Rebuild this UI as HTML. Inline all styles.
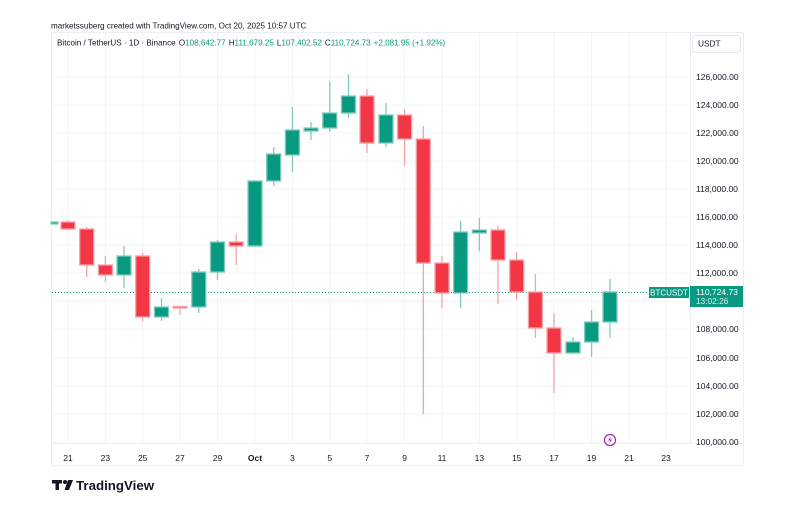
<!DOCTYPE html>
<html><head><meta charset="utf-8"><style>
html,body{margin:0;padding:0;background:#fff;width:799px;height:505px;overflow:hidden}
svg{display:block}
text{font-family:"Liberation Sans",sans-serif}
</style></head><body>
<svg width="799" height="505" viewBox="0 0 799 505" xmlns="http://www.w3.org/2000/svg">
<text x="51" y="28.5" font-size="8.1" fill="#131722">marketssuberg created with TradingView.com, Oct 20, 2025 10:57 UTC</text>
<rect x="51.5" y="32.5" width="692" height="433" fill="#fff" stroke="#eceef2"/>
<!-- grid -->
<g stroke="#f3f4f6" stroke-width="1">
<line x1="68" y1="33" x2="68" y2="443"/><line x1="105.4" y1="33" x2="105.4" y2="443"/><line x1="142.7" y1="33" x2="142.7" y2="443"/><line x1="180" y1="33" x2="180" y2="443"/><line x1="217.5" y1="33" x2="217.5" y2="443"/><line x1="255" y1="33" x2="255" y2="443"/><line x1="292.4" y1="33" x2="292.4" y2="443"/><line x1="329.8" y1="33" x2="329.8" y2="443"/><line x1="367" y1="33" x2="367" y2="443"/><line x1="404.6" y1="33" x2="404.6" y2="443"/><line x1="442" y1="33" x2="442" y2="443"/><line x1="479.4" y1="33" x2="479.4" y2="443"/><line x1="516.7" y1="33" x2="516.7" y2="443"/><line x1="554" y1="33" x2="554" y2="443"/><line x1="591.5" y1="33" x2="591.5" y2="443"/><line x1="629" y1="33" x2="629" y2="443"/><line x1="666" y1="33" x2="666" y2="443"/>
<line x1="52" y1="77" x2="690" y2="77"/><line x1="52" y1="105" x2="690" y2="105"/><line x1="52" y1="133" x2="690" y2="133"/><line x1="52" y1="161" x2="690" y2="161"/><line x1="52" y1="189" x2="690" y2="189"/><line x1="52" y1="217" x2="690" y2="217"/><line x1="52" y1="245" x2="690" y2="245"/><line x1="52" y1="273" x2="690" y2="273"/><line x1="52" y1="301" x2="690" y2="301"/><line x1="52" y1="329" x2="690" y2="329"/><line x1="52" y1="358" x2="690" y2="358"/><line x1="52" y1="386" x2="690" y2="386"/><line x1="52" y1="414" x2="690" y2="414"/><line x1="52" y1="442" x2="690" y2="442"/>
<line x1="52" y1="443.5" x2="743" y2="443.5" stroke="#eceef2"/>
<line x1="690.5" y1="33" x2="690.5" y2="443" stroke="#eceef2"/>
</g>
<!-- header -->
<text x="57" y="45.5" font-size="8.1" fill="#131722">Bitcoin / TetherUS · 1D · Binance <tspan dx="1">O</tspan><tspan fill="#089981">108,642.77</tspan><tspan dx="3">H</tspan><tspan fill="#089981">111,679.25</tspan><tspan dx="3">L</tspan><tspan fill="#089981">107,402.52</tspan><tspan dx="3">C</tspan><tspan fill="#089981">110,724.73</tspan><tspan dx="3" fill="#089981">+2,081.95 (+1.92%)</tspan></text>
<rect x="692.5" y="35.5" width="48" height="17" rx="3" fill="#fff" stroke="#e6e8ec"/>
<text x="698" y="46.5" font-size="8.3" fill="#131722">USDT</text>
<!-- price labels -->
<g font-size="8.5" fill="#131722">
<text x="696" y="80">126,000.00</text><text x="696" y="108">124,000.00</text><text x="696" y="136">122,000.00</text><text x="696" y="164">120,000.00</text><text x="696" y="192">118,000.00</text><text x="696" y="220">116,000.00</text><text x="696" y="248">114,000.00</text><text x="696" y="276">112,000.00</text><text x="696" y="332">108,000.00</text><text x="696" y="361">106,000.00</text><text x="696" y="389">104,000.00</text><text x="696" y="417">102,000.00</text><text x="696" y="445">100,000.00</text>
</g>
<!-- time labels -->
<g font-size="8.5" fill="#131722" text-anchor="middle">
<text x="68" y="461">21</text><text x="105.4" y="461">23</text><text x="142.7" y="461">25</text><text x="180" y="461">27</text><text x="217.5" y="461">29</text><text x="255" y="461" font-weight="bold">Oct</text><text x="292.4" y="461">3</text><text x="329.8" y="461">5</text><text x="367" y="461">7</text><text x="404.6" y="461">9</text><text x="442" y="461">11</text><text x="479.4" y="461">13</text><text x="516.7" y="461">15</text><text x="554" y="461">17</text><text x="591.5" y="461">19</text><text x="629" y="461">21</text><text x="666" y="461">23</text>
</g>
<!-- current price line -->
<line x1="52" y1="292.5" x2="690" y2="292.5" stroke="#089981" stroke-dasharray="1 2" stroke-width="1"/>
<!-- candles -->
<g stroke-width="1.3">
<g stroke="#7fcbbd" fill="#089981">
<rect x="51" y="222" width="7" height="2"/>
<line x1="124" y1="246" x2="124" y2="288"/><rect x="117" y="256" width="14" height="19"/>
<line x1="161.5" y1="298" x2="161.5" y2="321"/><rect x="154.5" y="307" width="14" height="10"/>
<line x1="198.8" y1="269" x2="198.8" y2="313"/><rect x="191.8" y="272" width="14" height="35"/>
<line x1="217.5" y1="240" x2="217.5" y2="280"/><rect x="210.5" y="242" width="14" height="30"/>
<line x1="255" y1="180" x2="255" y2="247"/><rect x="248" y="181" width="14" height="65"/>
<line x1="273.7" y1="147" x2="273.7" y2="186"/><rect x="266.7" y="154" width="14" height="27"/>
<line x1="292.4" y1="107" x2="292.4" y2="172"/><rect x="285.4" y="130" width="14" height="25"/>
<line x1="311" y1="122" x2="311" y2="140"/><rect x="304" y="128" width="14" height="3"/>
<line x1="329.8" y1="81" x2="329.8" y2="132"/><rect x="322.8" y="113" width="14" height="15"/>
<line x1="348.5" y1="74" x2="348.5" y2="118"/><rect x="341.5" y="96" width="14" height="17"/>
<line x1="386" y1="103" x2="386" y2="147"/><rect x="379" y="115" width="14" height="28"/>
<line x1="460.6" y1="221" x2="460.6" y2="308"/><rect x="453.6" y="232" width="14" height="61"/>
<line x1="479.4" y1="218" x2="479.4" y2="251"/><rect x="472.4" y="230" width="14" height="3"/>
<line x1="573" y1="337" x2="573" y2="354"/><rect x="566" y="342" width="14" height="11"/>
<line x1="591.6" y1="310" x2="591.6" y2="357"/><rect x="584.6" y="322" width="14" height="20"/>
<line x1="610" y1="279" x2="610" y2="338"/><rect x="603" y="292" width="14" height="30"/>
</g>
<g stroke="#f7a1a8" fill="#f23645">
<line x1="68" y1="220" x2="68" y2="230"/><rect x="61" y="222" width="14" height="7"/>
<line x1="86.7" y1="227" x2="86.7" y2="277"/><rect x="79.7" y="229" width="14" height="36"/>
<line x1="105.4" y1="256" x2="105.4" y2="282"/><rect x="98.4" y="265" width="14" height="10"/>
<line x1="142.7" y1="253" x2="142.7" y2="321"/><rect x="135.7" y="256" width="14" height="61"/>
<line x1="180" y1="306" x2="180" y2="315"/><rect x="173" y="306.5" width="14" height="1.5"/>
<line x1="236.2" y1="234" x2="236.2" y2="265"/><rect x="229.2" y="242" width="14" height="4"/>
<line x1="367" y1="89" x2="367" y2="153"/><rect x="360" y="96" width="14" height="47"/>
<line x1="404.6" y1="109" x2="404.6" y2="166"/><rect x="397.6" y="115" width="14" height="24"/>
<line x1="423.3" y1="126" x2="423.3" y2="414"/><rect x="416.3" y="139" width="14" height="124"/>
<line x1="442" y1="256" x2="442" y2="308"/><rect x="435" y="263" width="14" height="30"/>
<line x1="498" y1="226" x2="498" y2="304"/><rect x="491" y="230" width="14" height="30"/>
<line x1="516.7" y1="252" x2="516.7" y2="300"/><rect x="509.7" y="260" width="14" height="32"/>
<line x1="535.4" y1="274" x2="535.4" y2="338"/><rect x="528.4" y="292" width="14" height="36"/>
<line x1="554" y1="313" x2="554" y2="393"/><rect x="547" y="328" width="14" height="25"/>
</g>
</g>
<!-- price tags -->
<rect x="649" y="287" width="40" height="11" fill="#089981"/>
<text x="669" y="295.5" font-size="8" fill="#fff" text-anchor="middle">BTCUSDT</text>
<rect x="690" y="286" width="53" height="21" fill="#089981"/>
<text x="696" y="295" font-size="8.5" fill="#fff">110,724.73</text>
<text x="696" y="304" font-size="8.3" fill="#d6f0ea">13:02:26</text>
<!-- lightning -->
<circle cx="610" cy="440" r="5.5" fill="#fff" stroke="#9c27b0" stroke-width="1.2"/>
<path d="M611 436 L608 440.5 L610.3 440.5 L609 444 L612 439.5 L609.8 439.5 Z" fill="#9c27b0"/>
<!-- logo -->
<g fill="#131722">
<rect x="52" y="480" width="10" height="3.5"/><rect x="55.5" y="480" width="3.5" height="10"/>
<circle cx="65" cy="482" r="2"/>
<path d="M68 480 L73 480 L69 490 L64.5 490 Z"/>
</g>
<text x="76" y="490" font-size="13.3" font-weight="bold" fill="#131722">TradingView</text>
</svg>
</body></html>
